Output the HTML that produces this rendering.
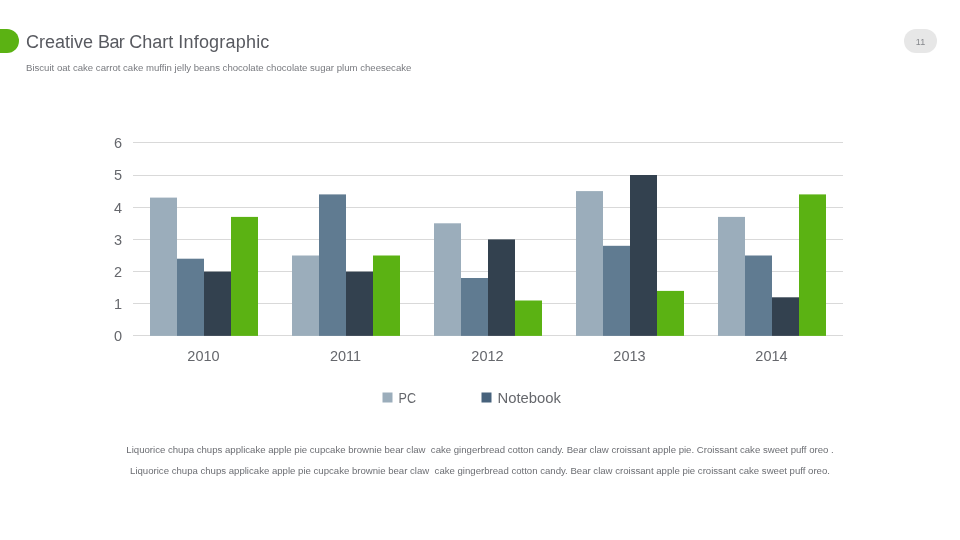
<!DOCTYPE html>
<html lang="en">
<head>
<meta charset="utf-8">
<title>Creative Bar Chart Infographic</title>
<style>
html,body{margin:0;padding:0;background:#fff;}
body{width:960px;height:540px;position:relative;overflow:hidden;font-family:"Liberation Sans",sans-serif;}
.abs{position:absolute;white-space:nowrap;}
#pill{left:-12px;top:29px;width:31px;height:24px;border-radius:12px;background:#5bb213;}
#title{left:26px;top:31px;font-size:18px;line-height:22px;color:#585a60;transform-origin:0 50%;}
#sub{left:26px;top:62px;font-size:9.6px;line-height:12px;color:#787a7f;transform-origin:0 50%;}
#badge{left:904px;top:29px;width:33px;height:24px;border-radius:12px;background:#e7e7e7;}
#num{left:904px;top:29.5px;width:33px;height:24px;line-height:24px;text-align:center;font-size:9px;color:#85878b;}
.p{left:0;width:960px;text-align:center;font-size:9.6px;line-height:12px;color:#6c6e73;}
.p span{display:inline-block;transform-origin:50% 50%;white-space:pre;}
svg{position:absolute;left:0;top:0;}
svg text{font-family:"Liberation Sans",sans-serif;fill:#65676c;}
</style>
</head>
<body>
<div class="abs" id="pill"></div>
<div class="abs" id="title">Creative <span style="letter-spacing:-0.6px">Bar</span> Chart <span style="letter-spacing:0.2px">Infographic</span></div>
<div class="abs" id="sub">Biscuit oat cake carrot cake muffin jelly beans chocolate chocolate sugar plum cheesecake</div>
<div class="abs" id="badge"></div>
<div class="abs" id="num">11</div>

<svg width="960" height="540" viewBox="0 0 960 540">
  <g stroke="#d9d9d9" stroke-width="1" shape-rendering="crispEdges">
    <line x1="133" x2="843" y1="142.5" y2="142.5"/>
    <line x1="133" x2="843" y1="175.5" y2="175.5"/>
    <line x1="133" x2="843" y1="207.5" y2="207.5"/>
    <line x1="133" x2="843" y1="239.5" y2="239.5"/>
    <line x1="133" x2="843" y1="271.5" y2="271.5"/>
    <line x1="133" x2="843" y1="303.5" y2="303.5"/>
    <line x1="133" x2="843" y1="335.5" y2="335.5"/>
  </g>
  <g id="bars">
    <rect x="150" y="197.6" width="27" height="138.3" fill="#9badbb"/>
    <rect x="177" y="258.7" width="27" height="77.2" fill="#607b91"/>
    <rect x="204" y="271.6" width="27" height="64.3" fill="#33414f"/>
    <rect x="231" y="216.9" width="27" height="119.0" fill="#5bb213"/>
    <rect x="292" y="255.5" width="27" height="80.4" fill="#9badbb"/>
    <rect x="319" y="194.4" width="27" height="141.5" fill="#607b91"/>
    <rect x="346" y="271.6" width="27" height="64.3" fill="#33414f"/>
    <rect x="373" y="255.5" width="27" height="80.4" fill="#5bb213"/>
    <rect x="434" y="223.3" width="27" height="112.6" fill="#9badbb"/>
    <rect x="461" y="278.0" width="27" height="57.9" fill="#607b91"/>
    <rect x="488" y="239.4" width="27" height="96.5" fill="#33414f"/>
    <rect x="515" y="300.5" width="27" height="35.4" fill="#5bb213"/>
    <rect x="576" y="191.1" width="27" height="144.8" fill="#9badbb"/>
    <rect x="603" y="245.8" width="27" height="90.1" fill="#607b91"/>
    <rect x="630" y="175.0" width="27" height="160.9" fill="#33414f"/>
    <rect x="657" y="290.9" width="27" height="45.0" fill="#5bb213"/>
    <rect x="718" y="216.9" width="27" height="119.0" fill="#9badbb"/>
    <rect x="745" y="255.5" width="27" height="80.4" fill="#607b91"/>
    <rect x="772" y="297.3" width="27" height="38.6" fill="#33414f"/>
    <rect x="799" y="194.4" width="27" height="141.5" fill="#5bb213"/>
  </g>
  <g font-size="14.5" text-anchor="end">
    <text x="122" y="147.5">6</text>
    <text x="122" y="180">5</text>
    <text x="122" y="212.5">4</text>
    <text x="122" y="244.5">3</text>
    <text x="122" y="276.5">2</text>
    <text x="122" y="308.5">1</text>
    <text x="122" y="340.5">0</text>
  </g>
  <g font-size="14.5" text-anchor="middle">
    <text x="203.5" y="360.5">2010</text>
    <text x="345.5" y="360.5">2011</text>
    <text x="487.5" y="360.5">2012</text>
    <text x="629.5" y="360.5">2013</text>
    <text x="771.5" y="360.5">2014</text>
  </g>
  <rect x="382.5" y="392.5" width="10" height="10" fill="#9badbb"/>
  <rect x="481.5" y="392.5" width="10" height="10" fill="#47627c"/>
  <g font-size="14.5">
    <text x="398.5" y="403.3" textLength="17.5" lengthAdjust="spacingAndGlyphs">PC</text>
    <text x="497.5" y="403.3" textLength="63.5" lengthAdjust="spacingAndGlyphs">Notebook</text>
  </g>
</svg>

<div class="abs p" style="top:444px"><span id="l1">Liquorice chupa chups applicake apple pie cupcake brownie bear claw  cake gingerbread cotton candy. Bear claw croissant apple pie. Croissant cake sweet puff oreo .</span></div>
<div class="abs p" style="top:465px"><span id="l2">Liquorice chupa chups applicake apple pie cupcake brownie bear claw  cake gingerbread cotton candy. Bear claw croissant apple pie croissant cake sweet puff oreo.</span></div>
</body>
</html>
